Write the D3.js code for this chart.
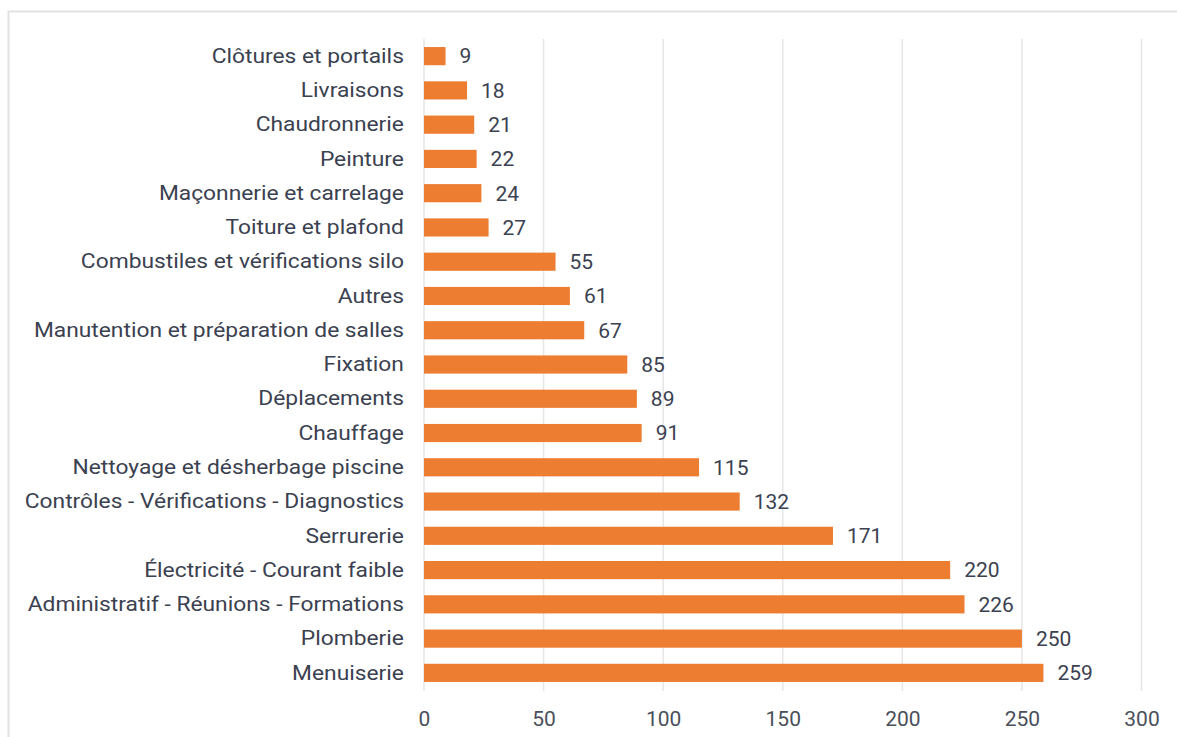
<!DOCTYPE html>
<html><head><meta charset="utf-8">
<script src="https://cdn.jsdelivr.net/npm/d3@7"></script>
<style>
body{margin:0;background:#fff;}
svg{display:block;font-family:Roboto, "Noto Sans", sans-serif;}
</style></head>
<body>
<script>
const categories = ["Clôtures et portails","Livraisons","Chaudronnerie","Peinture","Maçonnerie et carrelage","Toiture et plafond","Combustiles et vérifications silo","Autres","Manutention et préparation de salles","Fixation","Déplacements","Chauffage","Nettoyage et désherbage piscine","Contrôles - Vérifications - Diagnostics","Serrurerie","Électricité - Courant faible","Administratif - Réunions - Formations","Plomberie","Menuiserie"];
const values = [9,18,21,22,24,27,55,61,67,85,89,91,115,132,171,220,226,250,259];
const xTicks = [0,50,100,150,200,250,300];

const W = 1177, H = 737;
const svg = d3.select("body").append("svg").attr("width", W).attr("height", H);

// card border
svg.append("rect").attr("x", 8.5).attr("y", 11.5).attr("width", W + 10).attr("height", H + 10)
  .attr("fill", "#fff").attr("stroke", "#e2e2e2").attr("stroke-width", 2);

const m = {left: 424, right: 1141.5, top: 39, bottom: 690};
const x = d3.scaleLinear().domain([0, 300]).range([m.left, m.right]);
const y = d3.scaleBand().domain(categories).range([m.top, m.bottom]).paddingInner(0.47).paddingOuter(0.235);

// grid
svg.append("g").selectAll("line").data(xTicks).join("line")
  .attr("x1", d => x(d)).attr("x2", d => x(d))
  .attr("y1", m.top).attr("y2", m.bottom + 1)
  .attr("stroke", "#e6e6e6").attr("stroke-width", 1.5);

// x axis labels
const xAxis = d3.axisBottom(x).tickValues(xTicks).tickSize(0).tickPadding(0);
const gx = svg.append("g").attr("transform", `translate(0,${m.bottom + 21})`).call(xAxis);
gx.select(".domain").remove();
gx.selectAll("text").attr("font-size", 21).attr("fill", "#4a4f5a")
  .attr("font-family", "Roboto, sans-serif").attr("dy", "0.71em");

// y axis labels
const yAxis = d3.axisLeft(y).tickSize(0).tickPadding(18.5);
const gy = svg.append("g").attr("transform", `translate(${m.left},0)`).call(yAxis);
gy.select(".domain").remove();
gy.selectAll("text").attr("font-size", 21).attr("fill", "#3b4150")
  .attr("font-family", "Roboto, sans-serif")
  .attr("transform", "scale(1.085,1)");

// bars
svg.append("g").selectAll("rect").data(values).join("rect")
  .attr("x", x(0))
  .attr("y", (d, i) => y(categories[i]))
  .attr("width", d => x(d) - x(0))
  .attr("height", y.bandwidth())
  .attr("fill", "#ed7d31");

// value labels
svg.append("g").selectAll("text").data(values).join("text")
  .attr("x", d => x(d) + 14)
  .attr("y", (d, i) => y(categories[i]) + y.bandwidth() / 2)
  .attr("dy", "0.35em")
  .attr("font-size", 21).attr("fill", "#3b4150")
  .text(d => d);
</script>
</body></html>
